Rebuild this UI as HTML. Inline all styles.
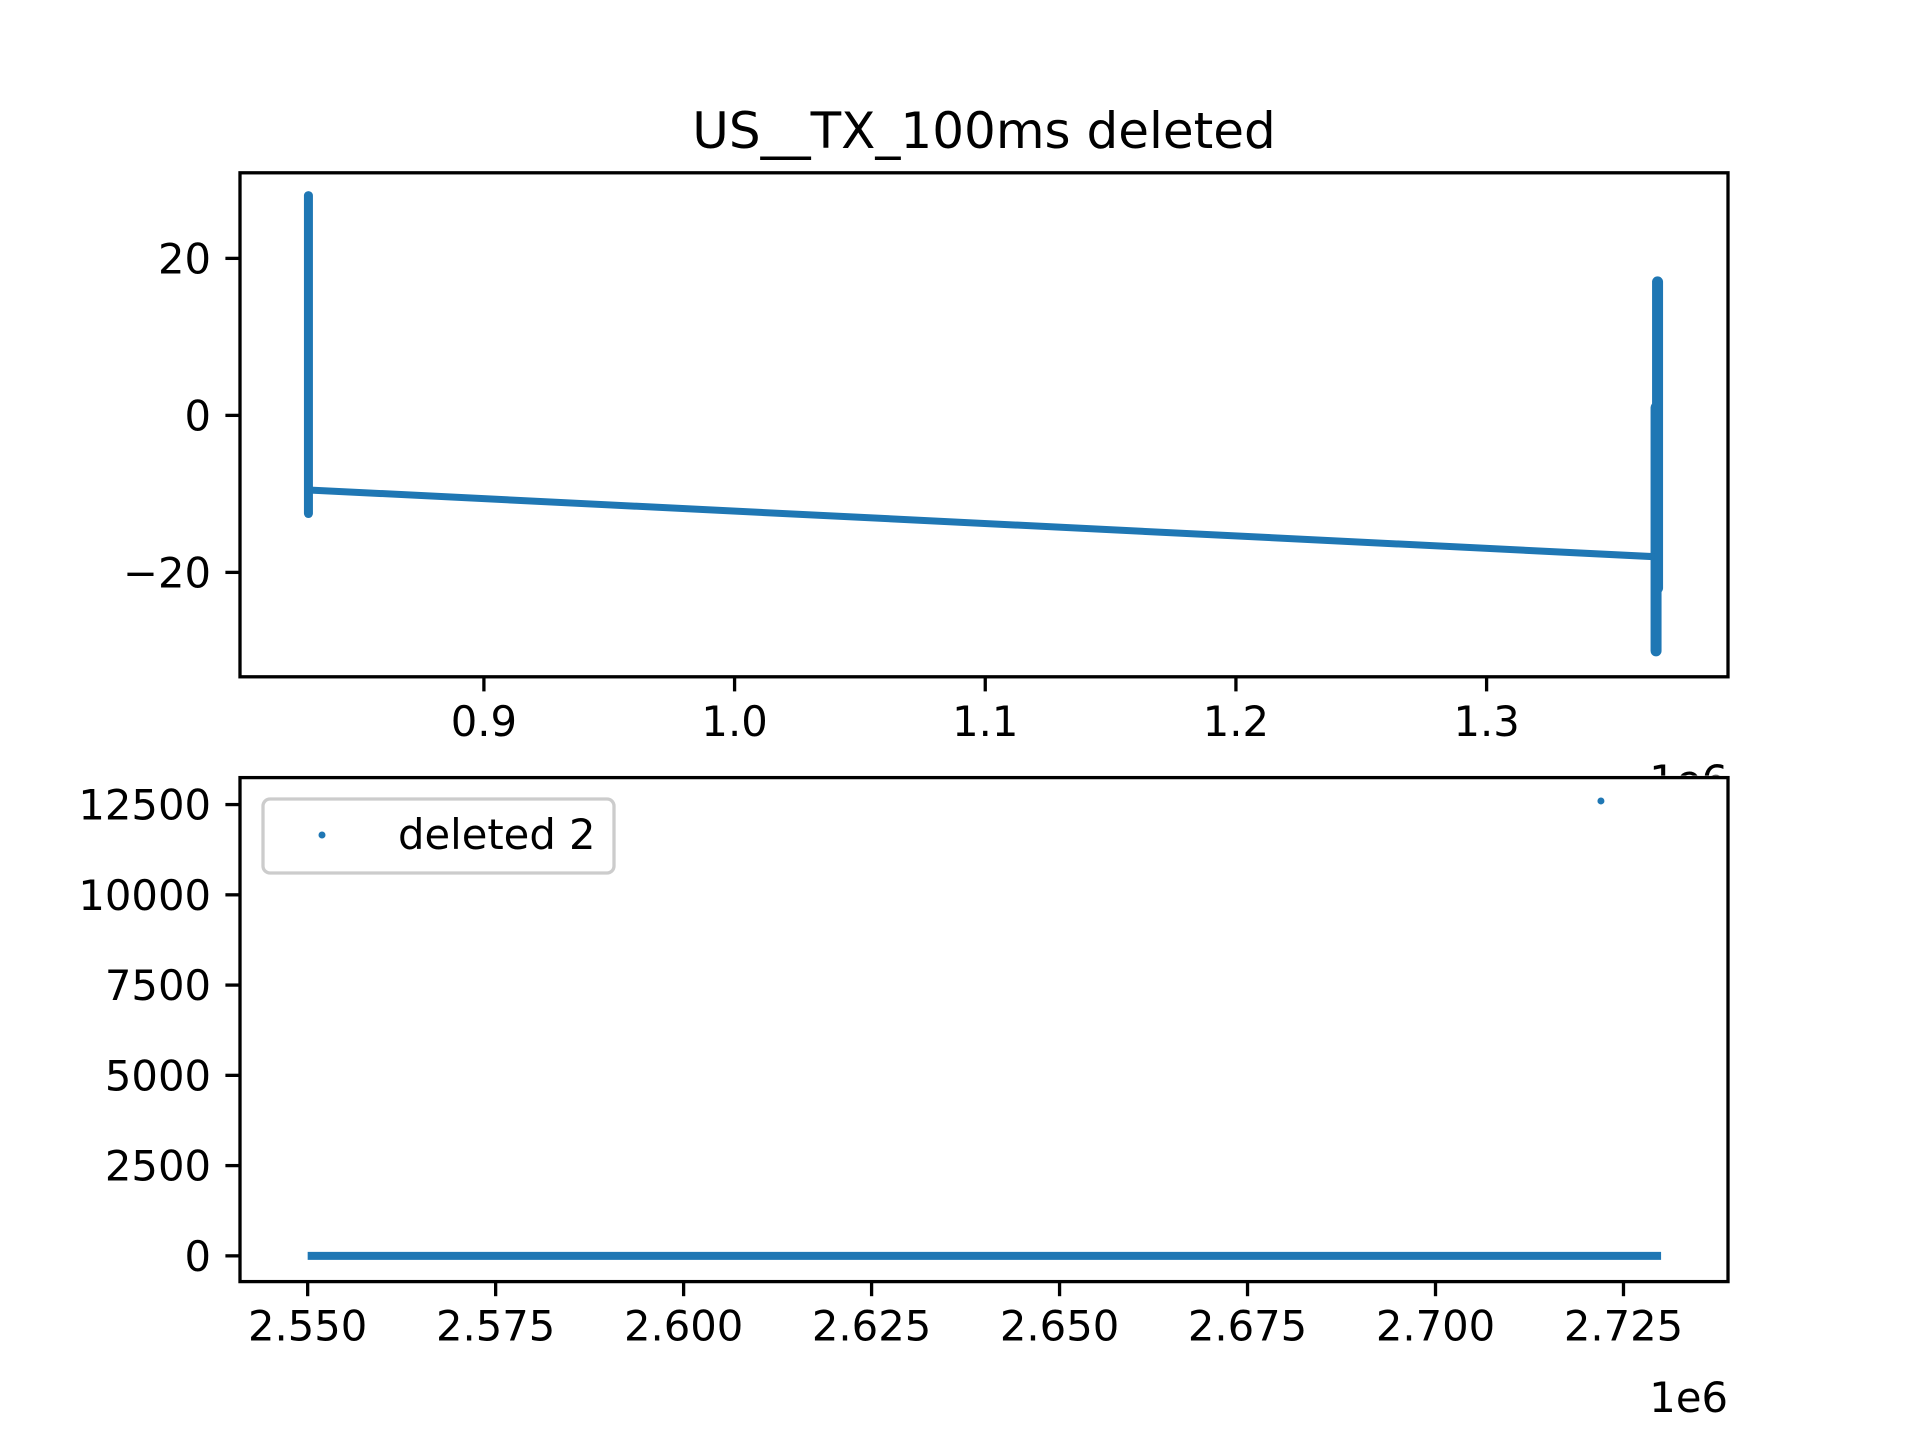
<!DOCTYPE html>
<html><head><meta charset="utf-8"><style>
html,body{margin:0;padding:0;background:#fff;}
svg{display:block;font-family:"DejaVu Sans","Liberation Sans",sans-serif;}
</style></head><body>
<svg id="chart" width="1920" height="1440" viewBox="0 0 1920 1440">
<rect width="1920" height="1440" fill="#fff"/>
<text x="984" y="148" font-size="50" text-anchor="middle">US__TX_100ms deleted</text>
</svg>
<script>
// Top panel data
const topXTicks = [0.9, 1.0, 1.1, 1.2, 1.3];
const topXTickLabels = ["0.9", "1.0", "1.1", "1.2", "1.3"];
const topYTicks = [20, 0, -20];
const topYTickLabels = ["20", "0", "\u221220"];
const topLineX = [0.830, 1.367];
const topLineY = [-9.5, -18];
const topSpikeX = [0.830, 1.3682, 1.3676];
const topSpikeMin = [-12.5, -22, -30];
const topSpikeMax = [28, 17, 1];
// Bottom panel data
const botXTicks = [2.550, 2.575, 2.600, 2.625, 2.650, 2.675, 2.700, 2.725];
const botXTickLabels = ["2.550", "2.575", "2.600", "2.625", "2.650", "2.675", "2.700", "2.725"];
const botYTicks = [0, 2500, 5000, 7500, 10000, 12500];
const botYTickLabels = ["0", "2500", "5000", "7500", "10000", "12500"];
const botLineX = [2.550, 2.730];
const botLineY = [0, 0];
const botOutlierX = [2.722];
const botOutlierY = [12600];

const NS = "http://www.w3.org/2000/svg";
const svg = document.getElementById('chart');
const C = "#1f77b4";
function el(tag, attrs, parent){
  const e = document.createElementNS(NS, tag);
  for (const k in attrs) e.setAttribute(k, attrs[k]);
  (parent||svg).appendChild(e);
  return e;
}
function panel(name, L, R, T, B, xmin, xmax, ymin, ymax){
  const sx = v => L + (v - xmin) / (xmax - xmin) * (R - L);
  const sy = v => B - (v - ymin) / (ymax - ymin) * (B - T);
  const g = el('g', {});
  
  
  return {sx, sy, g, L, R, T, B};
}
function axes(p, xt, xl, yt, yl, prefix){
  for (let i = 0; i < xt.length; i++){
    const x = p.sx(xt[i]);
    const t = el('line', {x1:x, x2:x, y1:p.B, y2:p.B+14.6, stroke:'#000','stroke-width':3.3}, p.g);
    
    
    const tx = el('text', {x:x, y:p.B+59, 'font-size':41.7, 'text-anchor':'middle'}, p.g);
    tx.textContent = xl[i];
    
    
  }
  for (let i = 0; i < yt.length; i++){
    const y = p.sy(yt[i]);
    const t = el('line', {x1:p.L-14.6, x2:p.L, y1:y, y2:y, stroke:'#000','stroke-width':3.3}, p.g);
    
    
    const tx = el('text', {x:p.L-29, y:y+15, 'font-size':41.7, 'text-anchor':'end'}, p.g);
    tx.textContent = yl[i];
    
    
  }
}
function frame(p, prefix){
  const r = el('rect', {x:p.L, y:p.T, width:p.R-p.L, height:p.B-p.T, fill:'none', stroke:'#000','stroke-width':3.3}, p.g);
  
  
}

// Top panel
const pt = panel('top-panel', 240, 1728, 172.8, 676.8, 0.8027, 1.3963, -33.3, 30.9);
for (let i = 0; i < topSpikeX.length; i++){
  const x = pt.sx(topSpikeX[i]);
  const r = el('line', {x1:x, x2:x, y1:pt.sy(topSpikeMin[i]), y2:pt.sy(topSpikeMax[i]), stroke:C,'stroke-width':i === 0 ? 9 : 11,'stroke-linecap':'round'}, pt.g);
  
  
}
{
  const l = el('line', {x1:pt.sx(topLineX[0]), x2:pt.sx(topLineX[1]), y1:pt.sy(topLineY[0]), y2:pt.sy(topLineY[1]), stroke:C,'stroke-width':7}, pt.g);
  
  
}
axes(pt, topXTicks, topXTickLabels, topYTicks, topYTickLabels, 'top');
frame(pt, 'top');
{
  const t = el('text', {x:1728, y:795, 'font-size':41.7, 'text-anchor':'end'}, pt.g);
  t.textContent = '1e6';
  
  
}

// Bottom panel
const pb = panel('bottom-panel', 240, 1728, 777.6, 1281.6, 2.5410, 2.7389, -713, 13247);
{
  const w = el('rect', {x:pt.L, y:pb.T-2, width:pb.R-pb.L, height:pb.B-pb.T+2, fill:'#fff'}, pb.g);
  
  
}
{
  const l = el('line', {x1:pb.sx(botLineX[0]), x2:pb.sx(botLineX[1]), y1:pb.sy(botLineY[0]), y2:pb.sy(botLineY[1]), stroke:C,'stroke-width':8}, pb.g);
  
  
}
for (let i = 0; i < botOutlierX.length; i++){
  const c = el('circle', {cx:pb.sx(botOutlierX[i]), cy:pb.sy(botOutlierY[i]), r:3.5, fill:C}, pb.g);
  
  
}
axes(pb, botXTicks, botXTickLabels, botYTicks, botYTickLabels, 'bottom');
frame(pb, 'bottom');
{
  const t = el('text', {x:1728, y:1412, 'font-size':41.7, 'text-anchor':'end'}, pb.g);
  t.textContent = '1e6';
  
  
}
// Legend
{
  const lg = el('g', {}, pb.g);
  
  
  const b = el('rect', {x:263, y:799, width:351, height:74, rx:7, fill:'#fff', stroke:'#ccc','stroke-width':3.3}, lg);
  
  
  const m = el('circle', {cx:322, cy:835, r:3.5, fill:C}, lg);
  
  
  const t = el('text', {x:398, y:849, 'font-size':41.7}, lg);
  t.textContent = 'deleted 2';
  
  
}
</script>
</body></html>
